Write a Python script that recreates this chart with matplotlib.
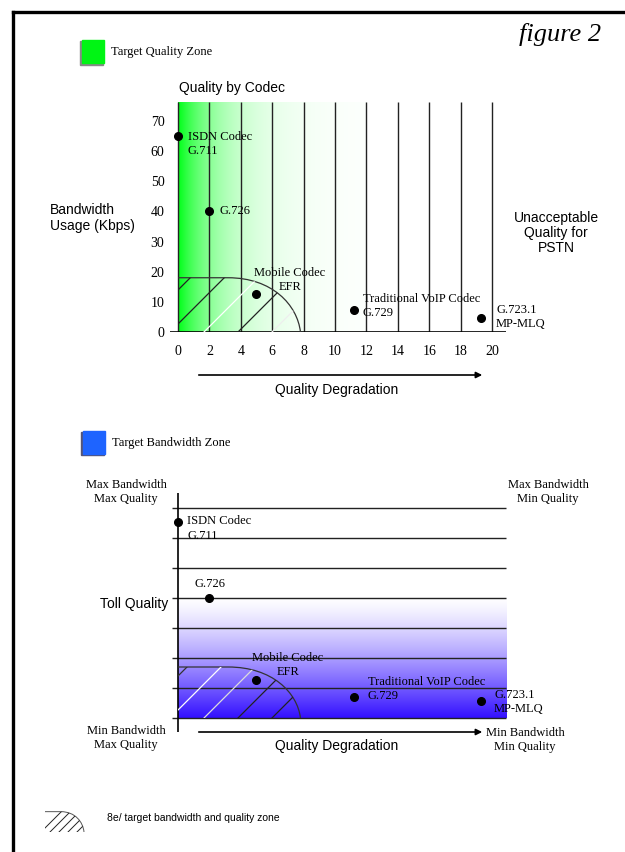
import numpy as np
import matplotlib.pyplot as plt
from matplotlib.path import Path
from matplotlib.patches import PathPatch, Rectangle

# ---- chart data ----
quality_ticks = list(range(0, 21, 2))
kbps_ticks = list(range(0, 71, 10))

codec_names = ['ISDN Codec\nG.711', 'G.726', 'Mobile Codec\nEFR',
               'Traditional VoIP Codec\nG.729', 'G.723.1\nMP-MLQ']
codec_quality = [0.0, 1.95, 4.95, 11.2, 19.3]
codec_kbps = [65, 40, 12.5, 7.2, 4.6]
# lower chart: relative bandwidth level, 0 = min bandwidth, 7 = max bandwidth
codec_level = [6.55, 4.0, 1.27, 0.7, 0.57]
band_levels = list(range(0, 8))
toll_level = 4

# target zone outline (quality, fraction of zone height)
zone_x = [0, 3.2, 6.0, 7.6, 7.8]
zone_frac = [1, 1, 1, 0.5, 0]
zone_kbps = 18
zone_level = 1.7
green_zone_end = 12

# label offsets in pixels (dx, dy) and alignment
top_offsets = [(10, -8), (11, 0), (34, 14), (9, 4), (15, 1)]
bot_offsets = [(9, -7), (-14, 14), (32, 15), (14, 8), (13, -1)]
label_ha = ['left', 'left', 'center', 'left', 'left']

SERIF = 'Liberation Serif'
SANS = 'Liberation Sans'
W, H = 625, 852

fig = plt.figure(figsize=(W / 100, H / 100), dpi=100)
bg = fig.add_axes([0, 0, 1, 1], zorder=-1)
bg.set_xlim(0, W)
bg.set_ylim(H, 0)
bg.axis('off')


def add_px_axes(xlim, ylim, x0px, sx, y0px, sy):
    left = x0px + xlim[0] * sx
    right = x0px + xlim[1] * sx
    bottom = y0px - ylim[0] * sy
    top = y0px - ylim[1] * sy
    ax = fig.add_axes([left / W, 1 - bottom / H, (right - left) / W, (bottom - top) / H])
    ax.set_xlim(*xlim)
    ax.set_ylim(*ylim)
    ax.patch.set_alpha(0)
    for s in ax.spines.values():
        s.set_visible(False)
    return ax


def draw_zone(ax, ytop, colors, start_px=-42, spacing_px=34, lw=0.9, ec='#333333'):
    ys = [f * ytop for f in zone_frac]
    verts = [(0, 0), (0, ys[0])] + list(zip(zone_x, ys)) + [(0, 0)]
    codes = [Path.MOVETO, Path.LINETO, Path.LINETO, Path.LINETO,
             Path.CURVE4, Path.CURVE4, Path.CURVE4, Path.CLOSEPOLY]
    clip = PathPatch(Path(verts, codes), fc='none', ec='none')
    ax.add_patch(clip)
    outline = Path(list(zip(zone_x, ys)),
                   [Path.MOVETO, Path.LINETO, Path.CURVE4, Path.CURVE4, Path.CURVE4])
    ax.add_patch(PathPatch(outline, fc='none', ec=ec, lw=lw, zorder=3))
    p0 = ax.transData.transform((0, 0))
    p1 = ax.transData.transform((1, 1))
    sx = p1[0] - p0[0]
    ratio = sx / (p1[1] - p0[1])
    for k, c in enumerate(colors):
        x0 = (start_px + spacing_px * k) / sx
        xs = np.array([x0, x0 + 20])
        ln, = ax.plot(xs, (xs - x0) * ratio, color=c, lw=lw, zorder=3)
        ln.set_clip_path(clip)


# ---- top chart: quality by codec ----
ax1 = add_px_axes((-0.6, 21.2), (0, 76.3), 178, 15.7, 332, 3.014)
xs = np.linspace(0, green_zone_end, 300)
w = 1 - np.exp(-xs / 2.6)
green = np.array([0.0, 1.0, 0.1])
grad = green[None, :] * (1 - w[:, None]) + w[:, None]
ax1.imshow(grad[None, :, :], extent=(0, green_zone_end, 0, 76.3), aspect='auto', zorder=0)
ax1.vlines(quality_ticks, 0, 76.3, color='#222222', lw=1.0, zorder=1)
ax1.hlines(0, -0.5, 20.9, color='black', lw=1.2, zorder=2)
draw_zone(ax1, zone_kbps, ['#222222', '#222222', 'white', '#222222', '#eeeeee'])
ax1.plot(codec_quality, codec_kbps, 'o', color='black', ms=5.5, zorder=5)
for name, x, y, (dx, dy), ha in zip(codec_names, codec_quality, codec_kbps, top_offsets, label_ha):
    ax1.annotate(name, (x, y), xytext=(dx, dy), textcoords='offset pixels', ha=ha, va='center',
                 ma=ha, family=SERIF, fontsize=9, linespacing=1.25, zorder=6)
ax1.set_xticks(quality_ticks)
ax1.set_yticks(kbps_ticks)
ax1.tick_params(length=0, labelsize=10, pad=9)
ax1.tick_params(axis='y', pad=3)
for t in ax1.get_xticklabels() + ax1.get_yticklabels():
    t.set_family(SERIF)

# ---- bottom chart: bandwidth by codec ----
ax2 = add_px_axes((-0.6, 21.2), (-0.5, 7.6), 178, 15.7, 718, 30)
ls = np.linspace(0, toll_level, 300)
wb = 1 - (1 - ls / toll_level) ** 1.3
blue = np.array([0.2, 0.06, 1.0])
gradb = blue[None, :] * (1 - wb[:, None]) + wb[:, None]
ax2.imshow(gradb[:, None, :], extent=(0, 20.9, 0, toll_level), origin='lower', aspect='auto', zorder=0)
ax2.hlines(band_levels, -0.4, 20.9, color='#222222', lw=1.0, zorder=1)
ax2.vlines(0, -0.47, 7.5, color='black', lw=1.2, zorder=2)
draw_zone(ax2, zone_level, ['#333333', 'white', '#dddddd', '#222222', '#222222'])
ax2.plot(codec_quality, codec_level, 'o', color='black', ms=5.5, zorder=5)
for name, x, y, (dx, dy), ha in zip(codec_names, codec_quality, codec_level, bot_offsets, label_ha):
    ax2.annotate(name, (x, y), xytext=(dx, dy), textcoords='offset pixels', ha=ha, va='center',
                 ma=ha, family=SERIF, fontsize=9, linespacing=1.25, zorder=6)
ax2.set_xticks([])
ax2.set_yticks([])

# ---- legend glyph for the hatched zone ----
ax3 = add_px_axes((-0.3, 8.2), (0, 19.5), 45, 5.0, 832, 1.13)
draw_zone(ax3, zone_kbps, ['#222222'] * 5, start_px=-4, spacing_px=9, lw=0.7, ec='#555555')
ax3.set_xticks([])
ax3.set_yticks([])

# ---- page furniture ----
bg.plot([13, W], [12, 12], color='black', lw=2.4)
bg.plot([13, 13], [12, H], color='black', lw=2.4)
bg.text(560, 35, 'figure 2', family=SERIF, style='italic', fontsize=19, ha='center', va='center')

bg.add_patch(Rectangle((80, 41), 23, 24, color='#888888'))
bg.add_patch(Rectangle((82, 40), 22, 23, color='#00f514'))
bg.text(111, 52, 'Target Quality Zone', family=SERIF, fontsize=9, va='center')
bg.text(179, 88, 'Quality by Codec', family=SANS, fontsize=10, va='center')
bg.text(50, 218, 'Bandwidth\nUsage (Kbps)', family=SANS, fontsize=10, va='center', linespacing=1.15)
bg.text(556, 233, 'Unacceptable\nQuality for\nPSTN', family=SANS, fontsize=10, ha='center',
        va='center', linespacing=1.1)
bg.annotate('', xy=(485, 375), xytext=(196, 375),
            arrowprops=dict(arrowstyle='-|>', lw=1.2, color='black', mutation_scale=9))
bg.text(337, 390, 'Quality Degradation', family=SANS, fontsize=10, ha='center', va='center')

bg.add_patch(Rectangle((81, 432), 23, 23, color='#555577'))
bg.add_patch(Rectangle((83, 431), 22, 23, color='#1e64ff'))
bg.text(112, 443, 'Target Bandwidth Zone', family=SERIF, fontsize=9, va='center')
bg.text(126, 492, 'Max Bandwidth\nMax Quality', family=SERIF, fontsize=9, ha='center', va='center')
bg.text(548, 492, 'Max Bandwidth\nMin Quality', family=SERIF, fontsize=9, ha='center', va='center')
bg.text(134, 604, 'Toll Quality', family=SANS, fontsize=10, ha='center', va='center')
bg.text(126, 738, 'Min Bandwidth\nMax Quality', family=SERIF, fontsize=9, ha='center', va='center')
bg.text(525, 740, 'Min Bandwidth\nMin Quality', family=SERIF, fontsize=9, ha='center', va='center')
bg.annotate('', xy=(485, 732), xytext=(196, 732),
            arrowprops=dict(arrowstyle='-|>', lw=1.2, color='black', mutation_scale=9))
bg.text(337, 746, 'Quality Degradation', family=SANS, fontsize=10, ha='center', va='center')
bg.text(107, 818, '8e/ target bandwidth and quality zone', family=SANS, fontsize=7.5, va='center')

fig.savefig('out.png', dpi=100)
